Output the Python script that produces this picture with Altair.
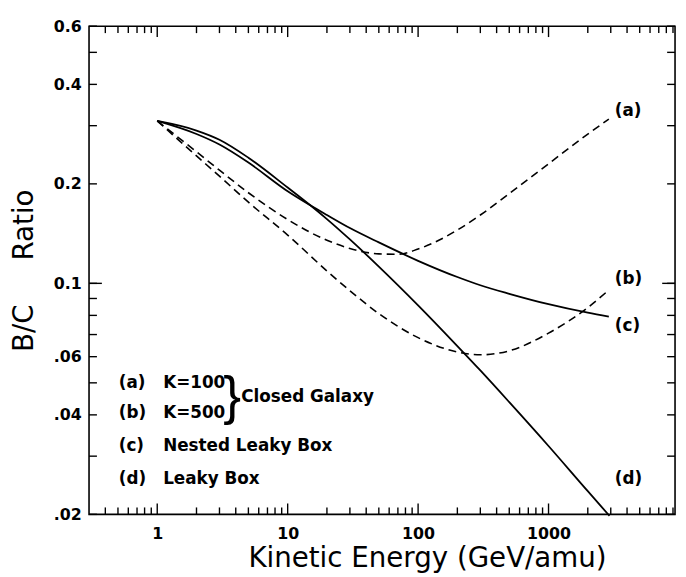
import altair as alt
import pandas as pd

FONT = "DejaVu Sans"
W, H = 593, 494

# ---- curve data: kinetic energy (GeV/amu) and B/C ratio ----
E_a = [1, 2, 3, 5, 10, 20, 30, 50, 70, 100, 200, 300, 500, 1000, 2000, 2900]
BC_a = [0.31, 0.25, 0.22, 0.188, 0.156, 0.135, 0.1275, 0.1228, 0.1225, 0.127, 0.145, 0.161, 0.187, 0.230, 0.283, 0.314]
E_b = [1, 2, 3, 5, 10, 20, 30, 50, 100, 200, 300, 500, 1000, 2000, 2930]
BC_b = [0.31, 0.243, 0.211, 0.176, 0.14, 0.109, 0.095, 0.081, 0.0685, 0.062, 0.0608, 0.0625, 0.0707, 0.0845, 0.0958]
E_c = [1, 2, 3, 5, 10, 15, 20, 30, 50, 100, 200, 300, 500, 1000, 2000, 2900]
BC_c = [0.31, 0.283, 0.263, 0.232, 0.19, 0.172, 0.161, 0.147, 0.133, 0.117, 0.1045, 0.0987, 0.093, 0.0865, 0.0815, 0.0793]
E_d = [1, 2, 3, 5, 10, 15, 20, 30, 50, 100, 200, 300, 500, 1000, 2000, 2930]
BC_d = [0.31, 0.29, 0.272, 0.24, 0.195, 0.172, 0.1565, 0.1358, 0.1124, 0.0858, 0.0646, 0.0545, 0.0437, 0.0322, 0.0235, 0.0198]

# ---- curve end labels ----
end_labels = ["(a)", "(b)", "(c)", "(d)"]
end_label_E = [3220, 3220, 3220, 3220]
end_label_BC = [0.333, 0.1027, 0.0744, 0.0256]

# ---- in-plot key ----
key_tags = ["(a)", "(b)", "(c)", "(d)"]
key_texts = ["K=100", "K=500", "Nested Leaky Box", "Leaky Box"]
key_tag_E = [0.507, 0.507, 0.507, 0.507]
key_text_E = [1.11, 1.11, 1.11, 1.11]
key_BC = [0.0499, 0.0406, 0.0321, 0.0256]
brace_text = ["}"]
brace_E = [3.75]
brace_BC = [0.0450]
group_text = ["Closed Galaxy"]
group_E = [4.4]
group_BC = [0.0453]

# ---- axes ----
x_domain = [0.3, 9330]
y_domain = [0.02, 0.6]
x_major = [1, 10, 100, 1000]
x_minor = [0.4, 0.5, 0.6, 0.7, 0.8, 0.9,
           2, 3, 4, 5, 6, 7, 8, 9,
           20, 30, 40, 50, 60, 70, 80, 90,
           200, 300, 400, 500, 600, 700, 800, 900,
           2000, 3000, 4000, 5000, 6000, 7000, 8000, 9000]
y_labeled = [0.6, 0.4, 0.2, 0.1, 0.06, 0.04, 0.02]
y_minor = [0.5, 0.3, 0.09, 0.08, 0.07, 0.05, 0.03]
y_decade = [0.1]

dashed = pd.concat([
    pd.DataFrame({"E": E_a, "BC": BC_a, "curve": "a"}),
    pd.DataFrame({"E": E_b, "BC": BC_b, "curve": "b"}),
])
solid = pd.concat([
    pd.DataFrame({"E": E_c, "BC": BC_c, "curve": "c"}),
    pd.DataFrame({"E": E_d, "BC": BC_d, "curve": "d"}),
])
end_df = pd.DataFrame({"E": end_label_E, "BC": end_label_BC, "t": end_labels})
tag_df = pd.DataFrame({"E": key_tag_E, "BC": key_BC, "t": key_tags})
ktext_df = pd.DataFrame({"E": key_text_E, "BC": key_BC, "t": key_texts})
brace_df = pd.DataFrame({"E": brace_E, "BC": brace_BC, "t": brace_text})
group_df = pd.DataFrame({"E": group_E, "BC": group_BC, "t": group_text})
anchor_df = pd.DataFrame({"E": [1.0], "BC": [0.3]})

xs = alt.Scale(type="log", domain=x_domain, nice=False)
ys = alt.Scale(type="log", domain=y_domain, nice=False)

common = dict(domain=False, grid=False, ticks=False, tickSize=0,
              labelColor="black", labelFont=FONT, labelFontWeight="bold",
              labelFontSize=16, labelOverlap=False, labelFlush=False)

x_axis = alt.Axis(
    orient="bottom", values=x_major, labelPadding=11, format="d",
    title="Kinetic Energy (GeV/amu)", titleFont=FONT, titleFontSize=28,
    titleFontWeight="normal", titleColor="black", titleX=342, titleY=53,
    titleAlign="center", titleBaseline="alphabetic", **common)
y_axis = alt.Axis(
    orient="left", values=y_labeled, labelPadding=8,
    labelExpr="datum.value >= 0.1 ? format(datum.value, '.1f') : replace(format(datum.value, '.2f'), '0.', '.')",
    title="B/C\u00a0\u00a0\u00a0\u00a0\u00a0Ratio", titleFont=FONT, titleFontSize=28,
    titleFontWeight="normal", titleColor="black", titleAngle=270,
    titleX=-65, titleY=247, titleAlign="center", titleBaseline="middle",
    **common)

axes_layer = alt.Chart(anchor_df).mark_point(opacity=0).encode(
    x=alt.X("E:Q", scale=xs, axis=x_axis),
    y=alt.Y("BC:Q", scale=ys, axis=y_axis),
)


def xticks(values, y0, y1):
    return alt.Chart(pd.DataFrame({"E": values})).mark_rule(
        color="black", strokeWidth=1.4
    ).encode(x=alt.X("E:Q", scale=xs, axis=None), y=alt.value(y0), y2=alt.value(y1))


def yticks(values, x0, x1):
    return alt.Chart(pd.DataFrame({"BC": values})).mark_rule(
        color="black", strokeWidth=1.4
    ).encode(y=alt.Y("BC:Q", scale=ys, axis=None), x=alt.value(x0), x2=alt.value(x1))


tick_layers = [
    xticks(x_major, H, H - 11),
    xticks(x_minor, H, H - 7),
    xticks(x_major, 0, 11),
    xticks(x_minor, 0, 7),
    yticks(y_labeled + y_minor, 0, 8),
    yticks(y_decade, 0, 13),
    yticks(y_labeled + y_minor, W, W - 8),
    yticks(y_decade, W, W - 13),
]

lines_dashed = alt.Chart(dashed).mark_line(
    color="black", strokeWidth=1.6, strokeDash=[8, 5], interpolate="monotone"
).encode(x=alt.X("E:Q", scale=xs, axis=None), y=alt.Y("BC:Q", scale=ys, axis=None),
         detail="curve:N")
lines_solid = alt.Chart(solid).mark_line(
    color="black", strokeWidth=1.8, interpolate="monotone"
).encode(x=alt.X("E:Q", scale=xs, axis=None), y=alt.Y("BC:Q", scale=ys, axis=None),
         detail="curve:N")


def text_layer(df, size=17, weight="bold", align="left", font=FONT):
    return alt.Chart(df).mark_text(
        font=font, fontSize=size, fontWeight=weight, align=align,
        baseline="middle", color="black"
    ).encode(x=alt.X("E:Q", scale=xs, axis=None), y=alt.Y("BC:Q", scale=ys, axis=None),
             text="t:N")


layers = [axes_layer] + tick_layers + [
    lines_dashed,
    lines_solid,
    text_layer(end_df),
    text_layer(tag_df),
    text_layer(ktext_df),
    text_layer(brace_df, size=54, weight="normal", align="center", font="Liberation Sans"),
    text_layer(group_df),
]

chart = alt.layer(*layers).resolve_axis(x="independent", y="independent").properties(
    width=W, height=H,
    autosize=alt.AutoSizeParams(type="none"),
    padding={"left": 82, "top": 15, "right": 3, "bottom": 61},
    background="white",
).configure_view(stroke="black", strokeWidth=1.6)

chart.save("out.html", embed_options={"renderer": "svg", "actions": False})
